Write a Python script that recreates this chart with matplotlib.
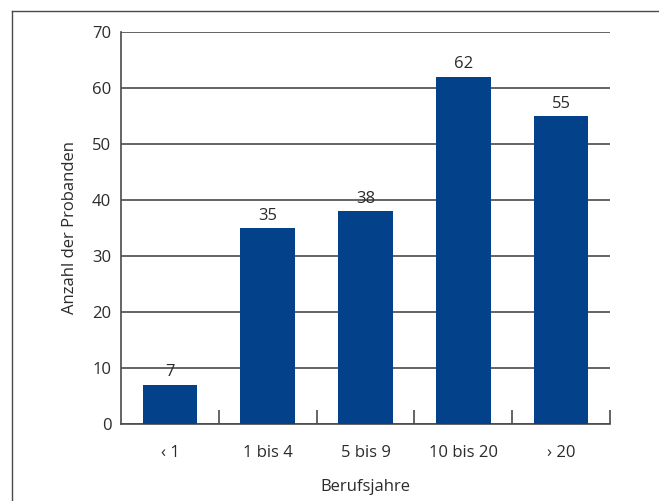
import matplotlib
matplotlib.use("Agg")
import matplotlib.pyplot as plt
from matplotlib.lines import Line2D

categories = ["\u2039 1", "1 bis 4", "5 bis 9", "10 bis 20", "\u203a 20"]
counts = [7, 35, 38, 62, 55]
y_ticks = [0, 10, 20, 30, 40, 50, 60, 70]

plt.rcParams['font.family'] = ['Open Sans', 'DejaVu Sans']
text_color = "#2b2b2b"
bar_color = "#03428a"
line_color = "#4a4a4a"
fs = 12

fig = plt.figure(figsize=(6.59, 5.01), dpi=100)
ax = fig.add_axes([121/659, 1 - 424/501, (610 - 121)/659, (424 - 32)/501])

x = list(range(len(categories)))
bars = ax.bar(x, counts, width=0.56, color=bar_color, zorder=3)
for xi, v in zip(x, counts):
    ax.text(xi, v + 0.8, str(v), ha="center", va="bottom",
            fontsize=fs, color=text_color, zorder=4)

ax.set_xlim(-0.5, len(categories) - 0.5)
ax.set_ylim(0, 70)
ax.set_yticks(y_ticks)
ax.set_xticks(x)
ax.set_xticklabels(categories)
ax.set_xticks([i + 0.5 for i in x], minor=True)
ax.tick_params(axis="x", which="major", length=0, pad=15, labelsize=fs, labelcolor=text_color)
ax.tick_params(axis="x", which="minor", direction="in", length=10, width=1.2, color=line_color)
ax.tick_params(axis="y", length=0, pad=7, labelsize=fs, labelcolor=text_color)

ax.yaxis.grid(True, color=line_color, linewidth=1.2, zorder=1)
for side in ["top", "right"]:
    ax.spines[side].set_visible(False)
for side in ["left", "bottom"]:
    ax.spines[side].set_color(line_color)
    ax.spines[side].set_linewidth(1.2)

ax.set_ylabel("Anzahl der Probanden", fontsize=fs, color=text_color, labelpad=10)
ax.set_xlabel("Berufsjahre", fontsize=fs, color=text_color, labelpad=13)

# outer frame along the left and top edges
fig.add_artist(Line2D([12/659, 12/659], [0, 1 - 11/501], color=line_color, linewidth=1.0))
fig.add_artist(Line2D([12/659, 1], [1 - 11/501, 1 - 11/501], color=line_color, linewidth=1.0))

fig.savefig("out.png", dpi=100)
